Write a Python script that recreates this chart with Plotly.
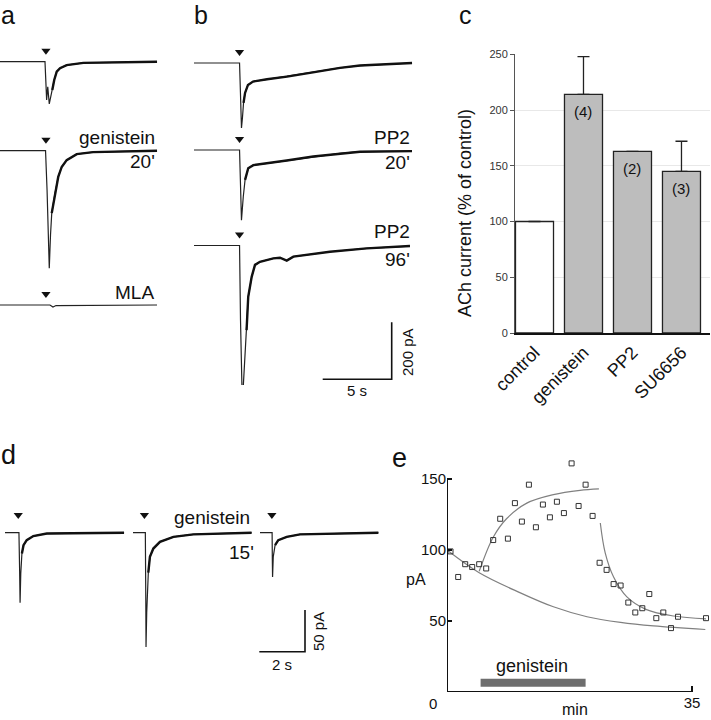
import plotly.graph_objects as go

W, H = 711, 720
FONT = "Liberation Sans, Arial, Helvetica, sans-serif"

# ---------------- data ----------------
# panel a: sweeps, time (s) and current (pA, relative to baseline)
a_ctrl_t = [0, 3.26, 3.38, 3.46, 3.57, 3.67, 3.79, 3.93, 4.11, 4.35, 4.83, 6.04, 11.38]
a_ctrl_pa = [0, 0, -134, -88, -148, -123, -99, -64, -35, -23, -12, -4, 0]
a_gen_t = [0, 3.30, 3.41, 3.51, 3.57, 3.66, 3.75, 3.99, 4.22, 4.47, 4.83, 5.56, 6.74, 11.38]
a_gen_pa = [0, 0, -138, -313, -412, -296, -219, -148, -92, -57, -33, -12, -5, 0]
a_mla_t = [0, 3.62, 3.84, 4.06, 11.38]
a_mla_pa = [0, 0, -7, -2, 0]

# panel b
b_ctrl_t = [0, 3.30, 3.37, 3.44, 3.51, 3.59, 3.70, 3.91, 4.28, 5.29, 6.74, 8.62, 10.58, 12.03, 13.84, 15.80]
b_ctrl_pa = [0, 0, -112, -228, -193, -140, -105, -77, -65, -57, -48, -33, -17, -9, -4, 0]
b_pp20_t = [0, 3.30, 3.37, 3.44, 3.57, 3.70, 3.93, 4.30, 5.27, 6.72, 8.64, 10.58, 12.03, 15.80]
b_pp20_pa = [0, 0, -123, -246, -164, -105, -64, -53, -47, -37, -23, -12, -6, -4]
b_pp96_t = [0, 3.30, 3.37, 3.48, 3.57, 3.81, 3.93, 4.18, 4.42, 4.78, 5.75, 6.23, 6.72, 7.20, 9.85, 12.51, 15.65]
b_pp96_pa = [0, 0, -261, -507, -495, -297, -180, -110, -68, -57, -45, -43, -53, -39, -22, -10, -2]

# panel c
bar_cats = ["control", "genistein", "PP2", "SU6656"]
bar_vals = [100, 214, 163, 145]
bar_err = [0, 34, 0, 27]
bar_n = ["", "(4)", "(2)", "(3)"]

# panel d: three sweeps
d_ctrl_t = [0, 0.61, 0.64, 0.66, 0.69, 0.74, 0.81, 0.95, 1.24, 1.83, 5.21]
d_ctrl_pa = [0, 0, -45, -84, -49, -25, -15, -9, -4, -1, 0]
d_gen_t = [0, 0.54, 0.56, 0.57, 0.60, 0.67, 0.74, 0.89, 1.18, 1.77, 2.64, 5.19]
d_gen_pa = [0, 0, -81, -137, -96, -48, -29, -19, -11, -5, -2, 0]
d_wash_t = [0, 0.53, 0.54, 0.55, 0.58, 0.66, 0.80, 1.17, 1.75, 5.18]
d_wash_pa = [0, 0, -33, -53, -29, -15, -9, -5, -2, 0]
d_stim = [0.58, 0.50, 0.52]

# panel e: time course (min, pA)
e_min = [0.5, 1.6, 2.6, 3.6, 4.6, 5.6, 6.6, 7.6, 8.7, 9.7, 10.7, 11.7, 12.7, 13.7, 14.7, 15.7,
         16.7, 17.8, 18.8, 19.8, 20.8, 21.8, 22.8, 23.8, 24.8, 25.9, 26.9, 27.9, 28.9, 29.9,
         30.9, 32.0, 33.0, 37.0]
e_pa = [99, 81, 90, 88, 90, 87, 107, 122, 108, 133, 120, 146, 116, 132, 123, 134,
        126, 161, 131, 146, 124, 91, 86, 76, 75, 63, 56, 59, 69, 52,
        56, 45, 53, 52]
fit_run_min = [0, 4.6, 10.4, 15.2, 20.0, 24.8, 29.5, 36.9]
fit_run_pa = [100, 84, 70, 60, 53, 49, 46.5, 44]
fit_gen_min = [4.6, 6.6, 8.5, 11.4, 15.2, 19.0, 21.7]
fit_gen_pa = [85, 109, 122, 133, 139, 142, 143]
fit_wash_min = [21.9, 22.6, 23.8, 25.7, 28.5, 32.4, 37.0]
fit_wash_pa = [119, 98, 81, 67, 58, 53.5, 51.5]
genistein_period = [4.8, 19.8]

# ---------------- layout helpers ----------------
S_AB, P_AB = 5 / 69, 200 / 57      # s per px, pA per px (panels a, b)
S_D, P_D = 2 / 45.7, 50 / 41.7     # panel d


def dom(x0, x1, y0, y1):
    return [x0 / W, x1 / W], [1 - y1 / H, 1 - y0 / H]


def px(x, y):
    return x / W, 1 - y / H


fig = go.Figure()
ink = "#111111"
annotations = []


def label(text, x, y, size=19, xanchor="right", angle=0):
    xp, yp = px(x, y)
    annotations.append(dict(text=text, x=xp, y=yp, xref="paper", yref="paper", showarrow=False,
                            xanchor=xanchor, yanchor="middle", textangle=angle,
                            font=dict(size=size, family=FONT, color=ink)))


def sweep(t, pa, t0, off, xa, ya, stim, gap):
    xs = [v + t0 for v in t]
    ys = [v + off for v in pa]
    fig.add_trace(go.Scatter(x=xs, y=ys, mode="lines", line=dict(color="#222222", width=1.2),
                             xaxis=xa, yaxis=ya, hoverinfo="skip", showlegend=False))
    # noisy slow decay drawn heavier
    if min(pa) < -30:
        k = pa.index(min(pa)) + 2
        fig.add_trace(go.Scatter(x=xs[k:], y=ys[k:], mode="lines", line=dict(color=ink, width=2.4),
                                 xaxis=xa, yaxis=ya, hoverinfo="skip", showlegend=False))
    fig.add_trace(go.Scatter(x=[stim + t0], y=[off + gap], mode="markers",
                             marker=dict(symbol="triangle-down", size=8, color=ink),
                             xaxis=xa, yaxis=ya, hoverinfo="skip", showlegend=False))


# panel a
TOP_AB = 40
for (t, pa), base in zip([(a_ctrl_t, a_ctrl_pa), (a_gen_t, a_gen_pa), (a_mla_t, a_mla_pa)],
                         [61.7, 150.7, 305]):
    sweep(t, pa, 0, -(base - TOP_AB) * P_AB, "x2", "y2", 3.33, 11 * P_AB)

# panel b
for (t, pa), base in zip([(b_ctrl_t, b_ctrl_pa), (b_pp20_t, b_pp20_pa), (b_pp96_t, b_pp96_pa)],
                         [63, 150, 245.5]):
    sweep(t, pa, 0, -(base - TOP_AB) * P_AB, "x3", "y3", 3.30, 11 * P_AB)

# scale bar b (5 s, 200 pA)
sb_t, sb_v = (391.7 - 194) * S_AB, -(379.3 - TOP_AB) * P_AB
fig.add_trace(go.Scatter(x=[sb_t - 5, sb_t, sb_t], y=[sb_v, sb_v, sb_v + 200], mode="lines",
                         line=dict(color=ink, width=1.6), xaxis="x3", yaxis="y3",
                         hoverinfo="skip", showlegend=False))

# panel d
TOP_D = 490
d_off = -(532.7 - TOP_D) * P_D
for (t, pa), x0, st in zip([(d_ctrl_t, d_ctrl_pa), (d_gen_t, d_gen_pa), (d_wash_t, d_wash_pa)],
                           [5, 133, 260], d_stim):
    sweep(t, pa, x0 * S_D, d_off, "x4", "y4", st, 17.7 * P_D)
sd_t, sd_v = 305 * S_D, -(651.7 - TOP_D) * P_D
fig.add_trace(go.Scatter(x=[sd_t - 2, sd_t, sd_t], y=[sd_v, sd_v, sd_v + 50], mode="lines",
                         line=dict(color=ink, width=1.6), xaxis="x4", yaxis="y4",
                         hoverinfo="skip", showlegend=False))

# panel c bars
fig.add_trace(go.Bar(x=bar_cats, y=bar_vals, width=0.776,
                     marker=dict(color=["white", "#bdbdbd", "#bdbdbd", "#bdbdbd"],
                                 line=dict(color="#222222", width=1.3)),
                     error_y=dict(type="data", array=bar_err, arrayminus=[0] * 4, symmetric=False,
                                  color="#222222", thickness=1.3, width=6),
                     xaxis="x", yaxis="y", hoverinfo="skip", showlegend=False))
for c, v, n in zip(bar_cats, bar_vals, bar_n):
    if n:
        annotations.append(dict(text=n, x=c, y=v, xref="x", yref="y", yshift=-17, showarrow=False,
                                font=dict(size=15, family=FONT, color=ink)))

# panel e
fig.add_trace(go.Scatter(x=genistein_period, y=[6.5, 6.5], mode="lines",
                         line=dict(color="#6e6e6e", width=8), xaxis="x5", yaxis="y5",
                         hoverinfo="skip", showlegend=False))
for fx, fy in [(fit_run_min, fit_run_pa), (fit_gen_min, fit_gen_pa), (fit_wash_min, fit_wash_pa)]:
    fig.add_trace(go.Scatter(x=fx, y=fy, mode="lines", line=dict(color="#808080", width=1.2, shape="spline"),
                             xaxis="x5", yaxis="y5", hoverinfo="skip", showlegend=False))
fig.add_trace(go.Scatter(x=e_min, y=e_pa, mode="markers",
                         marker=dict(symbol="square-open", size=5, color="#333333", line=dict(width=1)),
                         xaxis="x5", yaxis="y5", hoverinfo="skip", showlegend=False, cliponaxis=False))
annotations.append(dict(text="genistein", x=sum(genistein_period) / 2 - 0.2, y=18, xref="x5", yref="y5",
                        showarrow=False, font=dict(size=18, family=FONT, color=ink)))

# text labels
label("genistein", 157, 137)
label("20'", 157, 162)
label("MLA", 156, 292)
label("PP2", 412, 137)
label("20'", 412, 163)
label("PP2", 412, 232)
label("96'", 412, 259)
label("200 pA", 407, 352, size=15, xanchor="center", angle=-90)
label("5 s", 357, 391, size=15, xanchor="center")
label("genistein", 252, 517)
label("15'", 256, 552)
label("50 pA", 318, 632, size=15, xanchor="center", angle=-90)
label("2 s", 282, 664, size=15, xanchor="center")
label("ACh current (% of control)", 465, 213, size=18, xanchor="center", angle=-90)
label("pA", 416, 579, size=16, xanchor="center")
label("min", 575, 709, size=16, xanchor="center")
label("0", 433, 703, size=15, xanchor="center")
for letter, x, y, s in [("a", 8, 15, 25), ("b", 201, 15, 25), ("c", 465, 15, 25),
                        ("d", 8, 455, 27), ("e", 399, 458, 27)]:
    label(letter, x, y, size=s, xanchor="center")

hidden = dict(visible=False, showgrid=False, zeroline=False, fixedrange=True, automargin=False)
xa_d, ya_d = dom(0, 160, TOP_AB, 385)
xb_d, yb_d = dom(194, 420, TOP_AB, 385)
xd_d, yd_d = dom(0, 390, TOP_D, 680)
xc_d, yc_d = dom(515, 710, 54.3, 333)
xe_d, ye_d = dom(447, 711, 455, 692)

fig.update_layout(
    width=W, height=H, margin=dict(l=0, r=0, t=0, b=0, autoexpand=False),
    paper_bgcolor="white", plot_bgcolor="rgba(0,0,0,0)",
    font=dict(family=FONT, color=ink),
    xaxis=dict(domain=xc_d, anchor="y", range=[-0.398, 3.582], showline=True, linecolor="#111111",
               linewidth=2, ticks="", tickangle=-45, tickfont=dict(size=18, color=ink),
               showgrid=False, zeroline=False, automargin=False),
    yaxis=dict(domain=yc_d, anchor="x", range=[0, 250], tickvals=[0, 50, 100, 150, 200, 250],
               showline=True, linecolor="#555555", linewidth=1, ticks="outside", ticklen=4,
               tickcolor="#555555", tickfont=dict(size=11, color="#333333"),
               showgrid=True, gridcolor="#e8e8e8", zeroline=False, automargin=False),
    xaxis2=dict(domain=xa_d, anchor="y2", range=[0, 160 * S_AB], **hidden),
    yaxis2=dict(domain=ya_d, anchor="x2", range=[-(385 - TOP_AB) * P_AB, 0], **hidden),
    xaxis3=dict(domain=xb_d, anchor="y3", range=[0, 226 * S_AB], **hidden),
    yaxis3=dict(domain=yb_d, anchor="x3", range=[-(385 - TOP_AB) * P_AB, 0], **hidden),
    xaxis4=dict(domain=xd_d, anchor="y4", range=[0, 390 * S_D], **hidden),
    yaxis4=dict(domain=yd_d, anchor="x4", range=[-(680 - TOP_D) * P_D, 0], **hidden),
    xaxis5=dict(domain=xe_d, anchor="y5", range=[0, 264 / 7], tickvals=[35], ticks="inside",
                ticklen=6, tickwidth=2, tickcolor=ink, showline=False, showgrid=False,
                zeroline=False, tickfont=dict(size=15, color=ink), automargin=False),
    yaxis5=dict(domain=ye_d, anchor="x5", range=[0, 237 / 1.42], tickvals=[50, 100, 150],
                ticks="inside", ticklen=5, tickwidth=2, tickcolor=ink, showline=False,
                showgrid=False, zeroline=False, tickfont=dict(size=15, color=ink), automargin=False),
    shapes=[
        dict(type="line", xref="x5", yref="y5", x0=0, x1=35, y0=0, y1=0, line=dict(color=ink, width=2)),
        dict(type="line", xref="x5", yref="y5", x0=0, x1=0, y0=0, y1=150, line=dict(color=ink, width=2)),
    ],
    annotations=annotations,
)

# drop the browser's default 8px body margin so the figure sits at the page origin
fig.write_html("out.html", config={"displayModeBar": False},
               post_script="document.body.style.margin='0';")
